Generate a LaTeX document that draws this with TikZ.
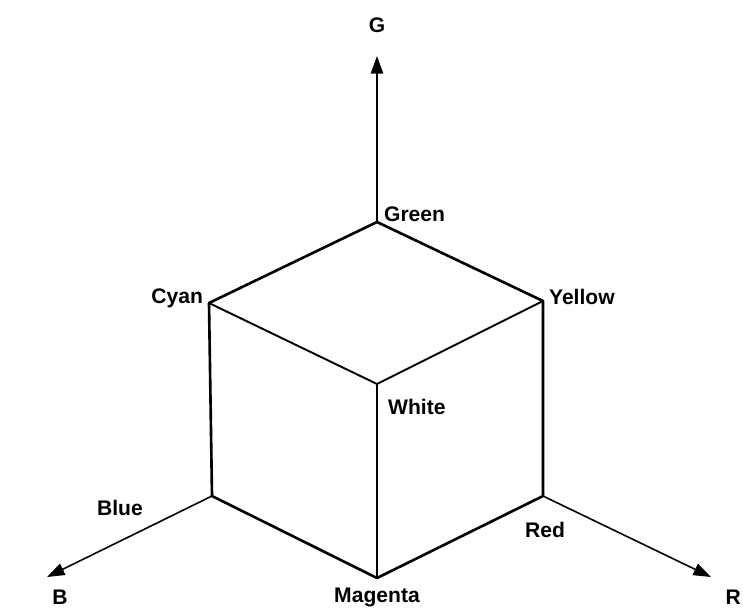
\documentclass[tikz,border=0pt]{standalone}
\usepackage{fontspec}
\setmainfont{Liberation Sans}
\usetikzlibrary{arrows.meta,positioning}

\begin{document}
\begin{tikzpicture}[x=0.02cm, y=-0.02cm, >={Triangle[length=10pt,width=7pt]},
    lbl/.style={font=\bfseries\fontsize{12}{14}\selectfont, inner sep=1pt},
    rim/.style={line width=1.5pt, line join=round},
    inner/.style={line width=1.1pt},
    axis/.style={line width=0.9pt, ->}]
  \useasboundingbox (0,0) rectangle (743,609);
  % cube corners
  \coordinate (green)   at (377,222);
  \coordinate (cyan)    at (209,303);
  \coordinate (yellow)  at (543,301);
  \coordinate (white)   at (377,384);
  \coordinate (blue)    at (212,496);
  \coordinate (red)     at (543,496);
  \coordinate (magenta) at (377,578);
  % axis ends
  \coordinate (gtip) at (377,56);
  \coordinate (btip) at (47,577);
  \coordinate (rtip) at (711,577);

  % axes
  \draw[axis] (green) -- (gtip);
  \draw[axis] (blue) -- (btip);
  \draw[axis] (red) -- (rtip);

  % cube
  \draw[rim] (green) -- (cyan) -- (blue) -- (magenta) -- (red) -- (yellow) -- cycle;
  \draw[inner] (cyan) -- (white) -- (yellow);
  \draw[inner] (white) -- (magenta);

  % corner labels
  \node[lbl, anchor=west] (lgreen)   at (382,214) {Green};
  \node[lbl, anchor=east] (lcyan)    at (205,298) {Cyan};
  \node[lbl, anchor=west] (lyellow)  at (547,297) {Yellow};
  \node[lbl, anchor=west] (lwhite)   at (386,407) {White};
  \node[lbl]              (lblue)    at (120,508) {Blue};
  \node[lbl]              (lred)     at (545,530) {Red};
  \node[lbl]              (lmagenta) at (377,597) {Magenta};
  % axis labels
  \node[lbl]              (lg) at (377,25)  {G};
  \node[lbl]              (lb) at (60,597)  {B};
  \node[lbl, anchor=east] (lr) at (743,597) {R};
\end{tikzpicture}
\end{document}
